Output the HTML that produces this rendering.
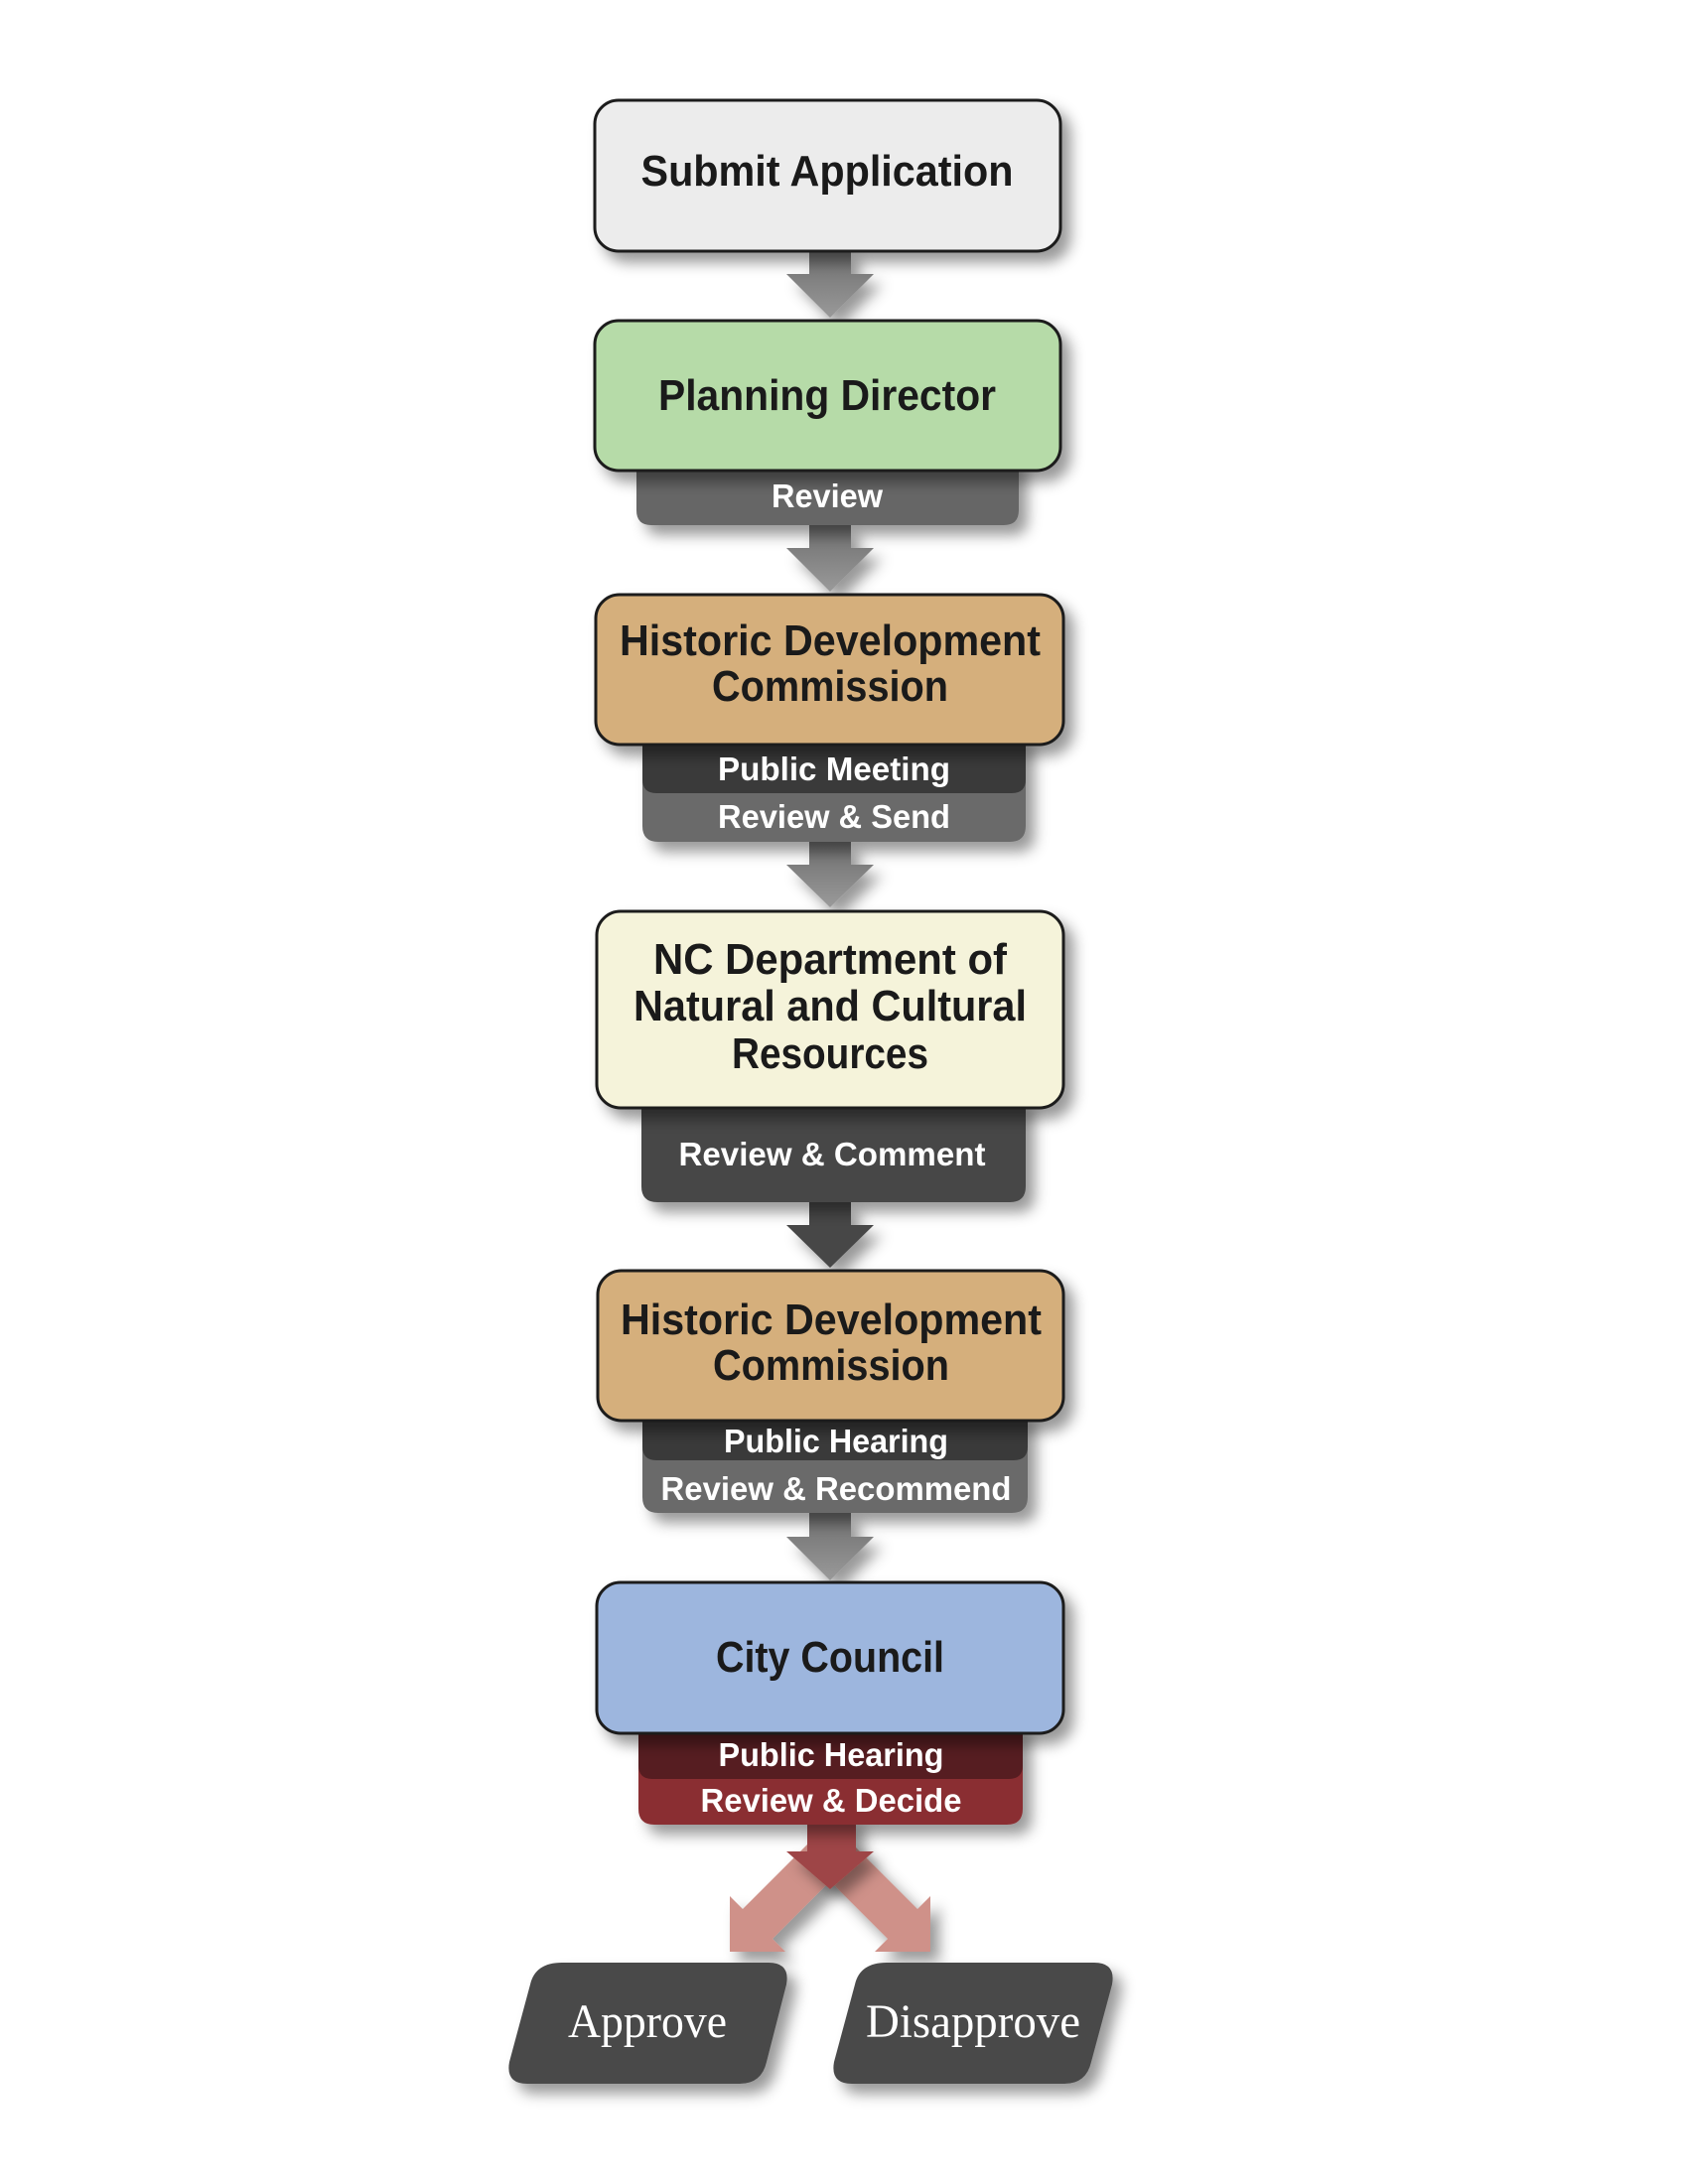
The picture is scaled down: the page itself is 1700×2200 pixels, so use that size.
<!DOCTYPE html>
<html><head><meta charset="utf-8"><style>
html,body{margin:0;padding:0;background:#fff}
svg{display:block}
.m{font-family:"Liberation Sans",sans-serif;font-weight:bold;font-size:44px;fill:#1a1a1a}
.t{font-family:"Liberation Sans",sans-serif;font-weight:bold;font-size:33px;fill:#fff}
.s{font-family:"Liberation Serif",serif;font-size:48px;fill:#fff}
</style></head><body>
<svg width="1700" height="2200" viewBox="0 0 1700 2200" xmlns="http://www.w3.org/2000/svg">
<defs>
<filter id="sh" x="-20%" y="-20%" width="150%" height="160%">
<feDropShadow dx="9" dy="10" stdDeviation="7" flood-color="#000" flood-opacity="0.4"/>
</filter>
<linearGradient id="ga" x1="0" y1="0" x2="0" y2="1"><stop offset="0" stop-color="#6e6e6e"/><stop offset="1" stop-color="#9a9a9a"/></linearGradient>
</defs>

<!-- arrows gray -->
<g filter="url(#sh)" fill="url(#ga)">
<polygon points="815,252 857,252 857,276 880,276 836,320 792,276 815,276"/>
<polygon points="815,529 857,529 857,552 880,552 836,596 792,552 815,552"/>
<polygon points="815,848 857,848 857,871 880,871 836,914 792,871 815,871"/>
<polygon points="815,1524 857,1524 857,1548 880,1548 836,1592 792,1548 815,1548"/>
</g>
<g filter="url(#sh)" fill="#474747">
<polygon points="815,1211 857,1211 857,1234 880,1234 836,1277 792,1234 815,1234"/>
</g>

<!-- Submit -->
<rect x="599" y="101" width="469" height="152" rx="24" fill="#ececec" stroke="#1a1a1a" stroke-width="3" filter="url(#sh)"/>
<text class="m" x="833" y="187" text-anchor="middle" textLength="375" lengthAdjust="spacingAndGlyphs">Submit Application</text>

<!-- Planning -->
<path d="M641,460 H1026 V514 Q1026,529 1011,529 H656 Q641,529 641,514 Z" fill="#666" filter="url(#sh)"/>
<rect x="599" y="323" width="469" height="151" rx="24" fill="#b6dba8" stroke="#1a1a1a" stroke-width="3" filter="url(#sh)"/>
<text class="m" x="833" y="413" text-anchor="middle" textLength="340" lengthAdjust="spacingAndGlyphs">Planning Director</text>
<text class="t" x="833" y="511" text-anchor="middle" textLength="112" lengthAdjust="spacingAndGlyphs">Review</text>

<!-- HDC1 -->
<path d="M647,740 H1033 V832 Q1033,848 1017,848 H663 Q647,848 647,832 Z" fill="#6a6a6a" filter="url(#sh)"/>
<path d="M647,740 H1033 V785 Q1033,799 1019,799 H661 Q647,799 647,785 Z" fill="#3a3a3a"/>
<rect x="600" y="599" width="471" height="151" rx="24" fill="#d5af7c" stroke="#1a1a1a" stroke-width="3" filter="url(#sh)"/>
<text class="m" x="836" y="660" text-anchor="middle" textLength="424" lengthAdjust="spacingAndGlyphs">Historic Development</text>
<text class="m" x="836" y="706" text-anchor="middle" textLength="238" lengthAdjust="spacingAndGlyphs">Commission</text>
<text class="t" x="840" y="786" text-anchor="middle" textLength="234" lengthAdjust="spacingAndGlyphs">Public Meeting</text>
<text class="t" x="840" y="834" text-anchor="middle" textLength="234" lengthAdjust="spacingAndGlyphs">Review &amp; Send</text>

<!-- NC -->
<path d="M646,1106 H1033 V1195 Q1033,1211 1017,1211 H662 Q646,1211 646,1195 Z" fill="#474747" filter="url(#sh)"/>
<rect x="601" y="918" width="470" height="198" rx="24" fill="#f5f3da" stroke="#1a1a1a" stroke-width="3" filter="url(#sh)"/>
<text class="m" x="836" y="981" text-anchor="middle" textLength="356" lengthAdjust="spacingAndGlyphs">NC Department of</text>
<text class="m" x="836" y="1028" text-anchor="middle" textLength="396" lengthAdjust="spacingAndGlyphs">Natural and Cultural</text>
<text class="m" x="836" y="1076" text-anchor="middle" textLength="198" lengthAdjust="spacingAndGlyphs">Resources</text>
<text class="t" x="838" y="1174" text-anchor="middle" textLength="309" lengthAdjust="spacingAndGlyphs">Review &amp; Comment</text>

<!-- HDC2 -->
<path d="M647,1421 H1035 V1508 Q1035,1524 1019,1524 H663 Q647,1524 647,1508 Z" fill="#6a6a6a" filter="url(#sh)"/>
<path d="M647,1421 H1035 V1457 Q1035,1471 1021,1471 H661 Q647,1471 647,1457 Z" fill="#3a3a3a"/>
<rect x="602" y="1280" width="469" height="151" rx="24" fill="#d5af7c" stroke="#1a1a1a" stroke-width="3" filter="url(#sh)"/>
<text class="m" x="837" y="1344" text-anchor="middle" textLength="424" lengthAdjust="spacingAndGlyphs">Historic Development</text>
<text class="m" x="837" y="1390" text-anchor="middle" textLength="238" lengthAdjust="spacingAndGlyphs">Commission</text>
<text class="t" x="842" y="1463" text-anchor="middle" textLength="226" lengthAdjust="spacingAndGlyphs">Public Hearing</text>
<text class="t" x="842" y="1511" text-anchor="middle" textLength="353" lengthAdjust="spacingAndGlyphs">Review &amp; Recommend</text>

<!-- pink arrows -->
<g filter="url(#sh)" fill="#cf9189">
<polygon points="818,1853 848,1883 778,1953 791,1966 735,1966 735,1910 748,1923"/>
<polygon points="854,1853 824,1883 894,1953 881,1966 937,1966 937,1910 924,1923"/>
</g>
<!-- red arrow -->
<polygon points="813,1830 862,1830 862,1865 880,1865 836,1903 792,1865 813,1865" fill="#9e4446" filter="url(#sh)"/>

<!-- City Council -->
<path d="M643,1736 H1030 V1822 Q1030,1838 1014,1838 H659 Q643,1838 643,1822 Z" fill="#8a2f33" filter="url(#sh)"/>
<path d="M643,1736 H1030 V1778 Q1030,1792 1016,1792 H657 Q643,1792 643,1778 Z" fill="#561d21"/>
<rect x="601" y="1594" width="470" height="152" rx="24" fill="#9db6de" stroke="#1a1a1a" stroke-width="3" filter="url(#sh)"/>
<text class="m" x="836" y="1684" text-anchor="middle" textLength="230" lengthAdjust="spacingAndGlyphs">City Council</text>
<text class="t" x="837" y="1779" text-anchor="middle" textLength="227" lengthAdjust="spacingAndGlyphs">Public Hearing</text>
<text class="t" x="837" y="1825" text-anchor="middle" textLength="263" lengthAdjust="spacingAndGlyphs">Review &amp; Decide</text>

<!-- Approve / Disapprove -->
<path d="M566,1977 H774 Q796,1977 792,1999 L772,2077 Q767,2099 745,2099 H531 Q509,2099 513,2077 L534,1999 Q539,1977 566,1977 Z" fill="#4a4a4a" filter="url(#sh)"/>
<text class="s" x="652" y="2052" text-anchor="middle" textLength="160" lengthAdjust="spacingAndGlyphs">Approve</text>
<path d="M893,1977 H1102 Q1124,1977 1120,1999 L1099,2077 Q1094,2099 1072,2099 H858 Q836,2099 840,2077 L861,1999 Q866,1977 893,1977 Z" fill="#4a4a4a" filter="url(#sh)"/>
<text class="s" x="980" y="2052" text-anchor="middle" textLength="216" lengthAdjust="spacingAndGlyphs">Disapprove</text>
</svg>
</body></html>
